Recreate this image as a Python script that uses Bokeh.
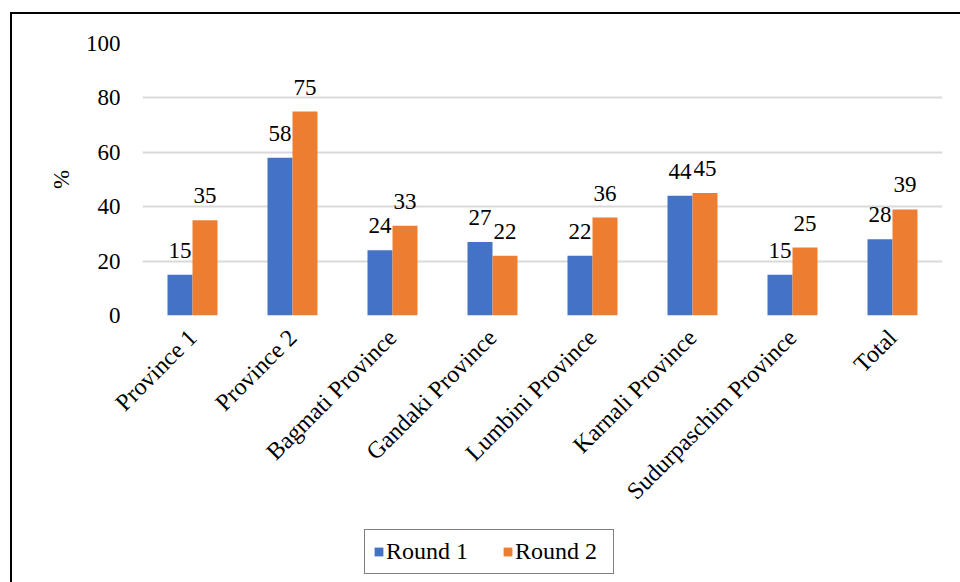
from math import pi

from bokeh.core.properties import value
from bokeh.embed import file_html
from bokeh.layouts import column
from bokeh.models import (ColumnDataSource, FactorRange, FixedTicker, LabelSet,
                          Legend, LegendItem, Range1d)
from bokeh.plotting import figure
from bokeh.resources import INLINE
from bokeh.transform import dodge

# Share of respondents (%) by province, two survey rounds
categories = ["Province 1", "Province 2", "Bagmati Province", "Gandaki Province",
              "Lumbini Province", "Karnali Province", "Sudurpaschim Province", "Total"]
round1 = [15, 58, 24, 27, 22, 44, 15, 28]
round2 = [35, 75, 33, 22, 36, 45, 25, 39]
y_ticks = [0, 20, 40, 60, 80, 100]

FONT = "Liberation Serif"
FS = "23px"
FS_CAT = "24px"
BLUE = "#4472C4"
ORANGE = "#ED7D31"
GRID = "#D9D9D9"

source = ColumnDataSource(data=dict(
    cat=categories,
    r1=round1,
    r2=round2,
    r1_txt=[str(v) for v in round1],
    r2_txt=[str(v) for v in round2],
))

p = figure(
    width=948, height=511,
    x_range=FactorRange(*categories, range_padding=0),
    y_range=Range1d(0, 100),
    output_backend="svg", toolbar_location=None,
    min_border_left=130, min_border_right=18,
    min_border_top=29, min_border_bottom=210,
)
p.outline_line_color = None
p.background_fill_color = "white"
p.border_fill_color = "white"

bar_w = 0.25
p.vbar(x=dodge("cat", -0.125, range=p.x_range), top="r1", width=bar_w,
       source=source, fill_color=BLUE, line_color=None)
p.vbar(x=dodge("cat", 0.125, range=p.x_range), top="r2", width=bar_w,
       source=source, fill_color=ORANGE, line_color=None)

# value labels above each bar
for col, off in (("r1", -0.125), ("r2", 0.125)):
    labels = LabelSet(x=dodge("cat", off, range=p.x_range), y=col, text=col + "_txt",
                      source=source, text_align="center", text_baseline="alphabetic",
                      y_offset=17, text_font=value(FONT), text_font_size=FS,
                      text_color="black")
    p.add_layout(labels)

# y axis
p.yaxis.ticker = FixedTicker(ticks=y_ticks)
p.yaxis.axis_line_color = None
p.yaxis.major_tick_line_color = None
p.yaxis.minor_tick_line_color = None
p.yaxis.major_label_standoff = 16
p.yaxis.major_label_text_font = FONT
p.yaxis.major_label_text_font_size = FS
p.yaxis.major_label_text_color = "black"
p.yaxis.axis_label = "%"
p.yaxis.axis_label_text_font = FONT
p.yaxis.axis_label_text_font_size = FS
p.yaxis.axis_label_text_font_style = "normal"
p.yaxis.axis_label_text_color = "black"
p.yaxis.axis_label_standoff = 9

# x axis
p.xaxis.axis_line_color = None
p.xaxis.major_tick_line_color = None
p.xaxis.minor_tick_line_color = None
p.xaxis.major_label_orientation = pi / 4
p.xaxis.major_label_standoff = 12
p.xaxis.major_label_text_font = FONT
p.xaxis.major_label_text_font_size = FS_CAT
p.xaxis.major_label_text_color = "black"

p.xgrid.grid_line_color = None
p.ygrid.grid_line_color = GRID
p.ygrid.grid_line_width = 2

# legend strip below the chart; its key renderers sit outside the visible range
lg = figure(
    width=948, height=57, output_backend="svg", toolbar_location=None,
    x_range=Range1d(0, 1), y_range=Range1d(0, 1),
    min_border=0, min_border_left=0, min_border_right=0,
    min_border_top=0, min_border_bottom=0,
)
lg.axis.visible = False
lg.grid.visible = False
lg.outline_line_color = None
lg.background_fill_color = "white"
lg.border_fill_color = "white"
k1 = lg.vbar(x=[5], top=[5], bottom=[4], width=0.1, fill_color=BLUE, line_color=None)
k2 = lg.vbar(x=[5], top=[5], bottom=[4], width=0.1, fill_color=ORANGE, line_color=None)

legend = Legend(
    items=[LegendItem(label="Round 1", renderers=[k1]),
           LegendItem(label="Round 2", renderers=[k2])],
    orientation="horizontal", location=(222, 8),
    glyph_width=11, glyph_height=11, label_standoff=2, label_width=90,
    spacing=26, padding=8, margin=0,
    label_text_font=FONT, label_text_font_size=FS_CAT, label_text_color="black",
    border_line_color="black", border_line_width=1.5,
    background_fill_color="white", background_fill_alpha=1.0,
)
lg.add_layout(legend, "center")

layout = column(p, lg, spacing=0)
layout.margin = (12, 0, 0, 10)
layout.styles = {"border-top": "2px solid black", "border-left": "2px solid black"}

open("out.html", "w").write(file_html(layout, INLINE))
